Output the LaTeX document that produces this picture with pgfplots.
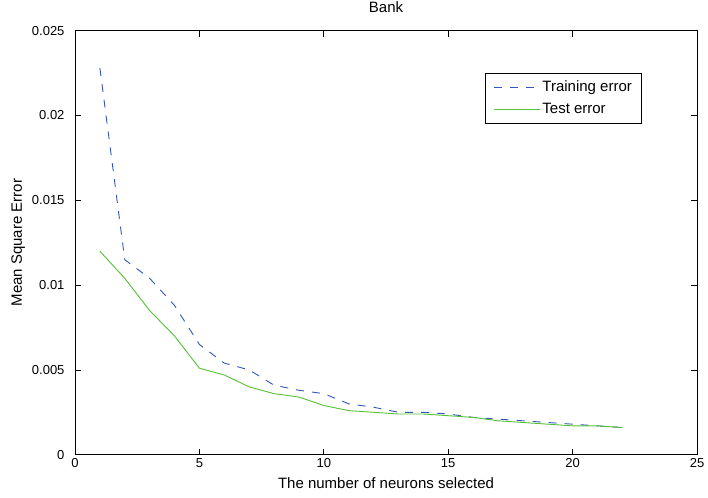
\documentclass[border=0pt]{standalone}
\usepackage{pgfplots}
\pgfplotsset{compat=1.18}
\usepackage{fontspec}
\setmainfont{Liberation Sans}
\definecolor{cTrain}{HTML}{3355C0}
\definecolor{cTest}{HTML}{55C033}

\begin{document}
\begin{tikzpicture}
\begin{axis}[
  name=ax,
  scale only axis,
  width=622pt, height=424pt,
  xmin=0, xmax=25, ymin=0, ymax=0.025,
  xtick={0,5,10,15,20,25},
  ytick={0,0.005,0.01,0.015,0.02,0.025},
  yticklabels={0,0.005,0.01,0.015,0.02,0.025},
  scaled y ticks=false,
  tick align=inside,
  major tick length=6pt,
  axis line style={line width=0.9pt},
  tick style={line width=0.8pt, black},
  /pgf/number format/assume math mode=true,
  tick label style={font=\fontsize{13}{15}\selectfont},
  yticklabel style={xshift=-7pt},
  label style={font=\fontsize{15}{17}\selectfont, inner sep=0pt},
  title style={font=\fontsize{15}{17}\selectfont, inner sep=0pt, at={(axis description cs:0.5,1)}, anchor=base, yshift=12pt},
  title={Bank},
  xlabel={The number of neurons selected},
  ylabel={Mean Square Error},
  ylabel style={at={(axis description cs:-0.080,0.5)}, anchor=south},
  xlabel style={at={(axis description cs:0.5,0)}, anchor=base, yshift=-34pt},
  legend style={at={(0.912,0.901)}, anchor=north east, line width=0.8pt,
    font=\fontsize{15}{17}\selectfont, inner xsep=8pt, inner ysep=6pt, row sep=6pt,
    cells={anchor=west}},
  legend image code/.code={\draw[#1, line width=0.9pt] (0pt,0pt) -- (46pt,0pt);},
]
\addplot[cTrain, line width=0.9pt, dash pattern=on 8pt off 8pt] coordinates {
(1,0.0228) (2,0.0115) (3,0.0104) (4,0.0088) (5,0.0065) (6,0.0054) (7,0.0050)
(8,0.0041) (9,0.0038) (10,0.0036) (11,0.0030) (12,0.0028) (13,0.0025) (14,0.0025)
(15,0.0024) (16,0.0022) (17,0.0021) (18,0.0020) (19,0.0019) (20,0.0018) (21,0.0017) (22,0.0016)};
\addplot[cTest, line width=0.9pt] coordinates {
(1,0.0120) (2,0.0104) (3,0.0085) (4,0.0070) (5,0.0051) (6,0.0047) (7,0.0040)
(8,0.0036) (9,0.0034) (10,0.0029) (11,0.0026) (12,0.0025) (13,0.0024) (14,0.0024)
(15,0.0023) (16,0.0022) (17,0.0020) (18,0.0019) (19,0.0018) (20,0.0017) (21,0.0017) (22,0.0016)};
\legend{Training error, Test error}
\end{axis}
\path ([xshift=-75pt,yshift=-43pt]ax.south west) rectangle ([xshift=11pt,yshift=30.7pt]ax.north east);
\end{tikzpicture}
\end{document}
